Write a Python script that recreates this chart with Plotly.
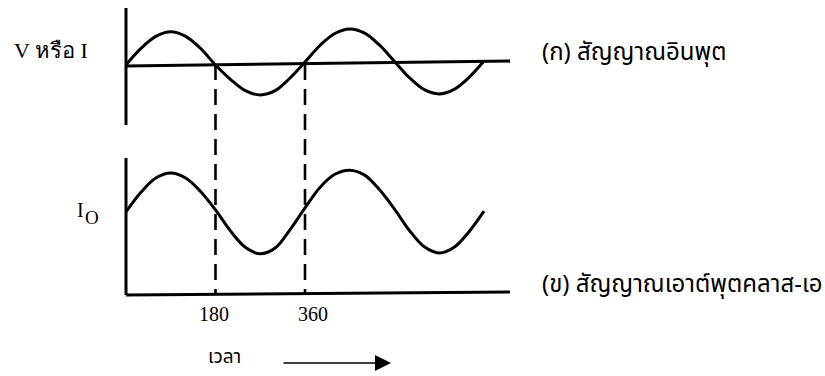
import plotly.graph_objects as go

# ---- data ----
phase_deg = [0, 30, 60, 90, 120, 150, 180, 210, 240, 270, 300, 330, 360,
             390, 420, 450, 480, 510, 540, 570, 600, 630, 660, 690, 720]
input_signal = [0, 0.51, 0.88, 1.02, 0.88, 0.51, 0, -0.44, -0.79, -0.92, -0.79, -0.40, 0.09,
                0.60, 0.97, 1.11, 0.98, 0.61, 0.11, -0.39, -0.76, -0.89, -0.75, -0.38, 0.12]
output_signal = [0, 0.48, 0.83, 0.95, 0.83, 0.50, 0.05, -0.46, -0.86, -1.02, -0.88, -0.43, 0.10,
                 0.60, 0.92, 1.02, 0.90, 0.54, 0.07, -0.45, -0.85, -1.00, -0.86, -0.48, 0.02]
marker_deg = [180, 360]
marker_labels = ["180", "360"]

W, H = 825, 376
PX0 = 126.0                 # pixel of 0 degrees
PX_PER_DEG = (305 - 126) / 360.0
TOP_MID, TOP_AMP = 65.0, 32.5
BOT_MID, BOT_AMP = 212.0, 41.0


def xdeg(px):
    return (px - PX0) / PX_PER_DEG


def vtop(py):
    return (TOP_MID - py) / TOP_AMP


def vbot(py):
    return (BOT_MID - py) / BOT_AMP


def px(x):
    return x / W


def py(y):
    return 1 - y / H


fig = go.Figure()
fig.add_trace(go.Scatter(x=phase_deg, y=input_signal, mode="lines",
                         line=dict(color="black", width=3, shape="spline", smoothing=1.0),
                         yaxis="y", hoverinfo="skip", showlegend=False))
fig.add_trace(go.Scatter(x=phase_deg, y=output_signal, mode="lines",
                         line=dict(color="black", width=3, shape="spline", smoothing=1.0),
                         yaxis="y2", hoverinfo="skip", showlegend=False))

shapes = []
line_style = dict(color="black", width=3)
# top axes
shapes.append(dict(type="line", xref="x", yref="y", x0=0, x1=0, y0=vtop(8), y1=vtop(125), line=line_style))
shapes.append(dict(type="line", xref="x", yref="y", x0=0, x1=xdeg(510), y0=vtop(66), y1=vtop(61), line=line_style))
# bottom axes
shapes.append(dict(type="line", xref="x", yref="y2", x0=0, x1=0, y0=vbot(158), y1=vbot(295), line=line_style))
shapes.append(dict(type="line", xref="x", yref="y2", x0=0, x1=xdeg(510), y0=vbot(295), y1=vbot(292), line=line_style))
# dashed markers
for d in marker_deg:
    shapes.append(dict(type="line", xref="x", yref="y2", x0=d, x1=d, y0=vbot(64), y1=vbot(294),
                       line=dict(color="black", width=2.6, dash="16px,9px")))

serif = "Liberation Serif, DejaVu Serif, serif"
thai = "Noto Sans Thai, Noto Sans, DejaVu Sans, sans-serif"

ann = []


def text(t, x, y, size, family, xanchor="center"):
    ann.append(dict(text=t, x=px(x), y=py(y), xref="paper", yref="paper", showarrow=False,
                    xanchor=xanchor, yanchor="middle", font=dict(size=size, family=family, color="black")))


text("V หรือ I", 51, 50, 22, serif)
text("(ก) สัญญาณอินพุต", 540, 53, 24, thai, xanchor="left")
text("(ข) สัญญาณเอาต์พุตคลาส-เอ", 540, 285, 24, thai, xanchor="left")
text("I", 80, 210, 20, serif)
text("O", 92, 217, 19, serif)
label_px = [213.5, 313]
for lbl, xp in zip(marker_labels, label_px):
    text(lbl, xp, 314, 20, serif)
text("เวลา", 224, 357, 19, thai)

ann.append(dict(x=px(391), y=py(363), ax=-(391 - 282), ay=0, xref="paper", yref="paper",
                axref="pixel", ayref="pixel", showarrow=True, text="",
                arrowhead=2, arrowsize=2.0, arrowwidth=1.6, arrowcolor="black"))

fig.update_layout(
    width=W, height=H, margin=dict(l=0, r=0, t=0, b=0),
    paper_bgcolor="white", plot_bgcolor="white",
    xaxis=dict(range=[xdeg(0), xdeg(W)], visible=False, fixedrange=True),
    yaxis=dict(range=[vtop(H), vtop(0)], visible=False, fixedrange=True),
    yaxis2=dict(range=[vbot(H), vbot(0)], visible=False, overlaying="y", fixedrange=True),
    shapes=shapes, annotations=ann,
)

fig.write_html("out.html", config={"displayModeBar": False},
               post_script="document.body.style.margin='0px';")
